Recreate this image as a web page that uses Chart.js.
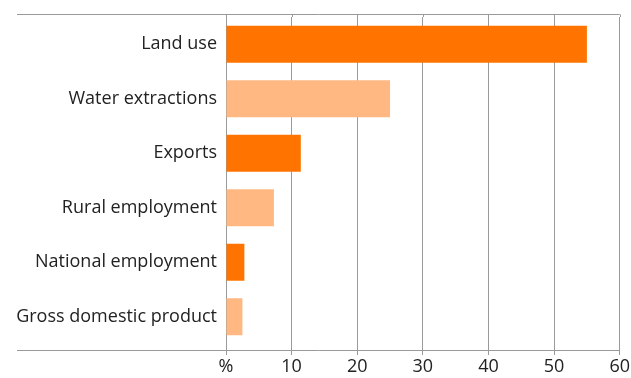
<!DOCTYPE html>
<html>
<head>
<meta charset="utf-8">
<script src="https://cdn.jsdelivr.net/npm/chart.js@4"></script>
<style>
  html, body { margin: 0; padding: 0; background: #fff; }
  #wrap { width: 631px; height: 378px; }
</style>
</head>
<body>
<div id="wrap"><canvas id="chart"></canvas></div>
<script>
const categories = ['Land use', 'Water extractions', 'Exports', 'Rural employment', 'National employment', 'Gross domestic product'];
const shares = [55, 25, 11.4, 7.3, 2.8, 2.5];
const barColors = ['#ff7300', '#ffb882', '#ff7300', '#ffb882', '#ff7300', '#ffb882'];
const xTicks = [0, 10, 20, 30, 40, 50, 60];

const gridColor = '#9a9a9a';
const topGap = 3;     // frame sits a little outside the bar rows
const bottomGap = 6;

// top and bottom rules run out past the labels, as in the original
const frameLines = {
  id: 'frameLines',
  afterDraw(chart) {
    const { ctx, chartArea } = chart;
    const x = chart.scales.x;
    const top = Math.round(chartArea.top - topGap) + 0.5;
    const bottom = Math.round(chartArea.bottom + bottomGap) + 0.5;
    ctx.save();
    ctx.strokeStyle = gridColor;
    ctx.lineWidth = 1;
    ctx.beginPath();
    ctx.moveTo(17, top);
    ctx.lineTo(chartArea.right, top);
    ctx.moveTo(17, bottom);
    ctx.lineTo(chartArea.right, bottom);
    // carry the gridlines up to the top rule
    xTicks.forEach(v => {
      const px = Math.round(x.getPixelForValue(v)) + 0.5;
      ctx.moveTo(px, top);
      ctx.lineTo(px, chartArea.top);
    });
    ctx.stroke();
    ctx.restore();
  }
};

new Chart(document.getElementById('chart'), {
  type: 'bar',
  data: {
    labels: categories,
    datasets: [{
      data: shares,
      backgroundColor: barColors,
      borderWidth: 0,
      categoryPercentage: 0.68,
      barPercentage: 1
    }]
  },
  options: {
    indexAxis: 'y',
    responsive: true,
    maintainAspectRatio: false,
    animation: false,
    layout: { padding: { top: 17, right: 11, left: 0, bottom: 0 } },
    plugins: { legend: { display: false }, tooltip: { enabled: false } },
    scales: {
      x: {
        min: 0,
        max: 60,
        afterBuildTicks: scale => { scale.ticks = xTicks.map(v => ({ value: v })); },
        afterFit: scale => { scale.height = 34; },
        grid: { color: gridColor, lineWidth: 1, drawTicks: true, tickLength: 11 },
        border: { display: false },
        ticks: {
          color: '#222',
          padding: 1,
          font: { family: 'Open Sans', size: 18 },
          callback: v => v === 0 ? '%' : v
        }
      },
      y: {
        afterFit: scale => { scale.width = 226; },
        grid: { display: false },
        border: { display: false },
        ticks: {
          color: '#222',
          padding: 1,
          font: { family: 'Open Sans', size: 18 }
        }
      }
    }
  },
  plugins: [frameLines]
});
</script>
</body>
</html>
